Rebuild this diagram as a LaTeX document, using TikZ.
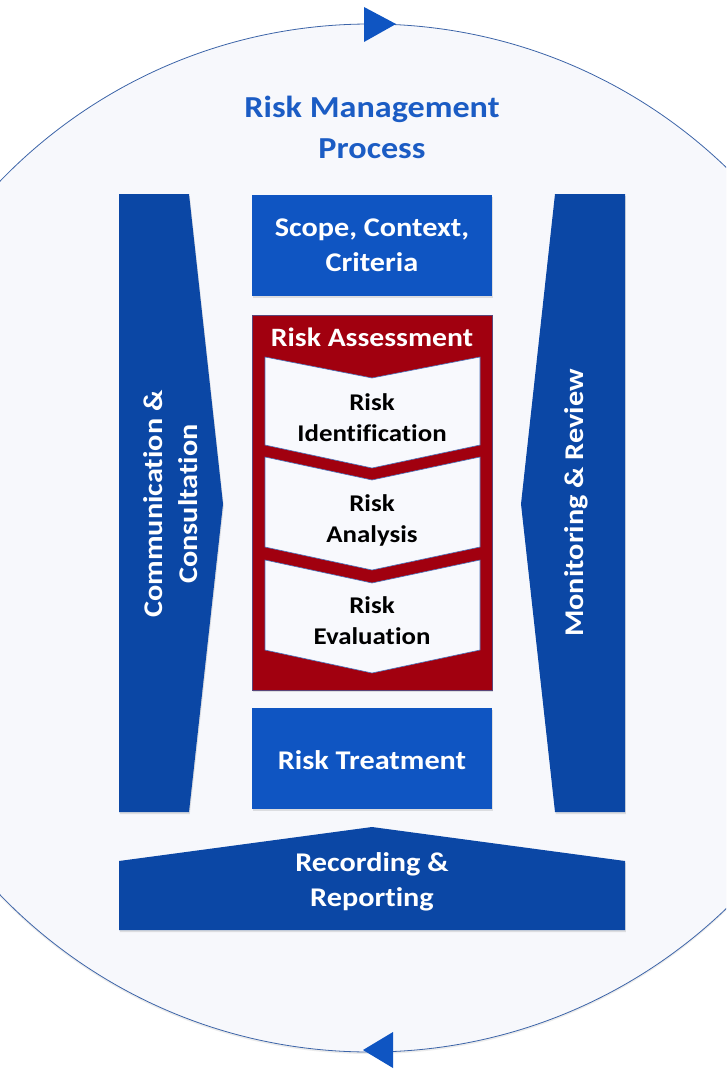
\documentclass[tikz,border=0pt]{standalone}
\usepackage{fontspec}
\setmainfont{Carlito}[FakeStretch=1.12, Ligatures={NoCommon}]
\usetikzlibrary{shadows}
\definecolor{ringfill}{HTML}{F7F8FC}
\definecolor{ringline}{HTML}{3C64A8}
\definecolor{darkblue}{HTML}{0B47A5}
\definecolor{midblue}{HTML}{0F55C2}
\definecolor{titleblue}{HTML}{1B5CC4}
\definecolor{assessred}{HTML}{A1000F}
\definecolor{chevfill}{HTML}{F8F9FD}
\definecolor{chevline}{HTML}{4A70B8}
\tikzset{
  soft/.style={drop shadow={opacity=0.22, shadow xshift=0.8pt, shadow yshift=-2pt}},
  sidebar/.style={fill=darkblue, soft},
  block/.style={fill=midblue, soft, minimum width=240pt, minimum height=101pt, inner sep=0pt},
  chev/.style={fill=chevfill, draw=chevline, line width=0.6pt},
  wlabel/.style={text=white, font=\bfseries\fontsize{27}{35}\selectfont, align=center, inner sep=0pt},
  klabel/.style={text=black, font=\bfseries\fontsize{24}{31}\selectfont, align=center, inner sep=0pt},
  tip/.style={fill=midblue}
}
\begin{document}
\begin{tikzpicture}[x=1pt,y=-1pt]
\useasboundingbox (0,0) rectangle (726,1070);
\fill[white] (0,0) rectangle (726,1070);
\begin{scope}
\clip (0,0) rectangle (726,1070);
% process cycle
\draw[fill=ringfill, draw=ringline, line width=0.8pt,
      drop shadow={opacity=0.15, shadow xshift=0pt, shadow yshift=-2pt}]
  (370,538) circle [radius=514pt];
\end{scope}
% direction marks on the cycle
\fill[tip] (364,7) -- (396,24) -- (364,42) -- cycle;
\fill[tip] (363,1050) -- (393,1032) -- (393,1068) -- cycle;

\node[text=titleblue, font=\bfseries\fontsize{30.5}{41}\selectfont, align=center, inner sep=0pt]
  (title) at (372,127) {Risk Management\\Process};

% communication & consultation
\fill[sidebar] (119,194) -- (189,194) -- (223,504) -- (189,812) -- (119,812) -- cycle;
\node[wlabel, rotate=90] (comm) at (171,504) {Communication \&\\Consultation};

% monitoring & review
\fill[sidebar] (555,194) -- (625,194) -- (625,812) -- (555,812) -- (521,504) -- cycle;
\node[wlabel, rotate=90] (mon) at (576,503) {Monitoring \& Review};

% scope, context, criteria
\node[block] (scope) at (372,245) {};
\node[wlabel] (scopet) at (372,245.5) {Scope, Context,\\Criteria};

% risk assessment
\fill[fill=assessred, draw=ringline!70!assessred, line width=0.6pt, soft] (252,315) rectangle (492,690);
\node[text=white, font=\bfseries\fontsize{26.5}{30}\selectfont, inner sep=0pt] (assess) at (372,337) {Risk Assessment};

\draw[chev] (265,357) -- (372,378) -- (480,357) -- (480,445) -- (372,468) -- (265,445) -- cycle;
\node[klabel] (ident) at (372,418) {Risk\\Identification};

\draw[chev] (265,457) -- (372,480) -- (480,457) -- (480,547) -- (372,570) -- (265,547) -- cycle;
\node[klabel] (anal) at (372,520) {Risk\\Analysis};

\draw[chev] (265,560) -- (372,583) -- (480,560) -- (480,650) -- (372,673) -- (265,650) -- cycle;
\node[klabel] (eval) at (372,621) {Risk\\Evaluation};

% risk treatment
\node[block] (treat) at (372,758.5) {};
\node[wlabel] (treatt) at (372,760) {Risk Treatment};

% recording & reporting
\fill[sidebar] (119,861) -- (372,827) -- (625,861) -- (625,930) -- (119,930) -- cycle;
\node[wlabel] (rec) at (372,882) {Recording \&\\Reporting};
\end{tikzpicture}
\end{document}
